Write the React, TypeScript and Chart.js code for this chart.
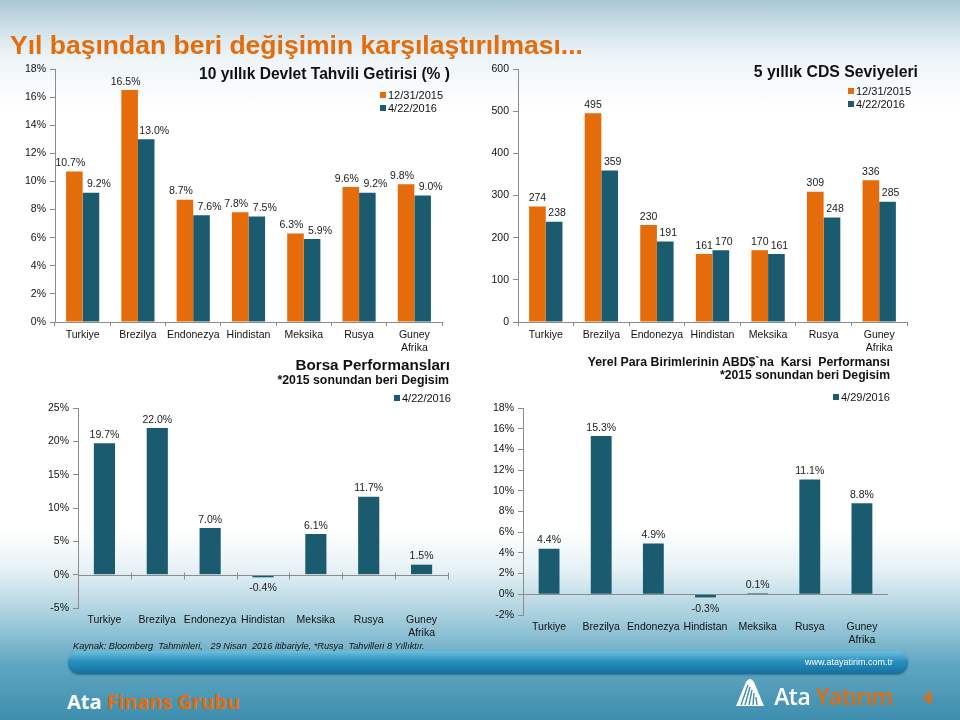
import React, { useEffect, useRef } from "react";
import { Chart, registerables } from "chart.js";

Chart.register(...registerables);

// ---------- data ----------
const countries = ["Turkiye", "Brezilya", "Endonezya", "Hindistan", "Meksika", "Rusya", "Guney Afrika"];
const seriesDates = ["12/31/2015", "4/22/2016"];
const bondYield2015 = [10.7, 16.5, 8.7, 7.8, 6.3, 9.6, 9.8];
const bondYield2016 = [9.2, 13.0, 7.6, 7.5, 5.9, 9.2, 9.0];
const cds2015 = [274, 495, 230, 161, 170, 309, 336];
const cds2016 = [238, 359, 191, 170, 161, 248, 285];
const stockDate = "4/22/2016";
const stockChange = [19.7, 22.0, 7.0, -0.4, 6.1, 11.7, 1.5];
const fxDate = "4/29/2016";
const fxChange = [4.4, 15.3, 4.9, -0.3, 0.1, 11.1, 8.8];

const ORANGE = "#E46C0A";
const TEAL = "#1A5B70";
const AXIS = "#8c8c8c";
const FONT = "Arial, 'Liberation Sans', sans-serif";

Chart.defaults.font.family = FONT;
Chart.defaults.color = "#111";

const labels = countries.map((c) => c.split(" "));

function labelPlugin(format: (v: number) => string, dx: number[]) {
  return {
    id: "barLabels",
    afterDatasetsDraw(chart: any) {
      const ctx = chart.ctx;
      ctx.save();
      ctx.font = `10.5px ${FONT}`;
      ctx.fillStyle = "#1a1a1a";
      ctx.textAlign = "center";
      chart.data.datasets.forEach((ds: any, di: number) => {
        const meta = chart.getDatasetMeta(di);
        meta.data.forEach((el: any, i: number) => {
          const v = ds.data[i] as number;
          const x = el.x + (dx[di] || 0);
          if (v >= 0) {
            ctx.textBaseline = "bottom";
            ctx.fillText(format(v), x, el.y - 3);
          } else {
            ctx.textBaseline = "top";
            ctx.fillText(format(v), x, el.y + 6);
          }
        });
      });
      ctx.restore();
    },
  };
}

function zeroLinePlugin(withTicks: boolean) {
  return {
    id: "zeroLine",
    afterDatasetsDraw(chart: any) {
      const { ctx, chartArea, scales } = chart;
      const y = Math.round(scales.y.getPixelForValue(0)) + 0.5;
      ctx.save();
      ctx.strokeStyle = AXIS;
      ctx.lineWidth = 1;
      ctx.beginPath();
      ctx.moveTo(chartArea.left, y);
      ctx.lineTo(chartArea.right, y);
      if (withTicks) {
        const n = chart.data.labels.length;
        const w = (chartArea.right - chartArea.left) / n;
        for (let i = 1; i <= n; i++) {
          const x = Math.round(chartArea.left + i * w) + 0.5;
          ctx.moveTo(x, y - 3);
          ctx.lineTo(x, y + 4);
        }
      }
      ctx.stroke();
      ctx.restore();
    },
  };
}

type Cfg = {
  datasets: { data: number[]; color: string; label: string }[];
  min: number;
  max: number;
  step: number;
  tick: (v: number) => string;
  fmt: (v: number) => string;
  dx: number[];
  yWidth: number;
  xHeight: number;
  padding: { top: number; right: number; left: number; bottom: number };
  catPct: number;
  zeroAxis: boolean;
  zeroTicks?: boolean;
};

function makeConfig(c: Cfg): any {
  const plugins: any[] = [labelPlugin(c.fmt, c.dx)];
  if (c.zeroAxis) plugins.push(zeroLinePlugin(!!c.zeroTicks));
  return {
    type: "bar",
    data: {
      labels,
      datasets: c.datasets.map((d) => ({
        label: d.label,
        data: d.data,
        backgroundColor: d.color,
        borderWidth: 0,
        categoryPercentage: c.catPct,
        barPercentage: 1,
      })),
    },
    options: {
      responsive: false,
      animation: false,
      devicePixelRatio: 1,
      layout: { padding: c.padding },
      plugins: { legend: { display: false }, title: { display: false }, tooltip: { enabled: false } },
      scales: {
        x: {
          grid: c.zeroAxis
            ? { display: false, drawTicks: false }
            : { display: true, drawOnChartArea: false, drawTicks: true, tickLength: 4, color: AXIS, offset: true },
          border: { display: !c.zeroAxis, color: AXIS },
          ticks: { padding: c.zeroAxis ? 6 : 3, maxRotation: 0, autoSkip: false, font: { size: 10.5 }, color: "#111" },
          afterFit: (s: any) => {
            s.height = c.xHeight;
          },
        },
        y: {
          min: c.min,
          max: c.max,
          grid: { display: true, drawOnChartArea: false, drawTicks: true, tickLength: 5, color: AXIS },
          border: { display: true, color: AXIS },
          ticks: { stepSize: c.step, padding: 4, font: { size: 10.5 }, color: "#111", callback: (v: any) => c.tick(Number(v)) },
          afterFit: (s: any) => {
            s.width = c.yWidth;
          },
        },
      },
    },
    plugins,
  };
}

const pct1 = (v: number) => `${v.toFixed(1)}%`;
const pct0 = (v: number) => `${v}%`;

const W = 470;

const charts = [
  {
    left: 0,
    top: 55,
    width: W,
    height: 305,
    cfg: makeConfig({
      datasets: [
        { data: bondYield2015, color: ORANGE, label: seriesDates[0] },
        { data: bondYield2016, color: TEAL, label: seriesDates[1] },
      ],
      min: 0,
      max: 18,
      step: 2,
      tick: pct0,
      fmt: pct1,
      dx: [-4, 8],
      yWidth: 55,
      xHeight: 38,
      padding: { top: 14, right: W - 442, left: 0, bottom: 0 },
      catPct: 0.6,
      zeroAxis: false,
    }),
  },
  {
    left: 470,
    top: 55,
    width: W,
    height: 305,
    cfg: makeConfig({
      datasets: [
        { data: cds2015, color: ORANGE, label: seriesDates[0] },
        { data: cds2016, color: TEAL, label: seriesDates[1] },
      ],
      min: 0,
      max: 600,
      step: 100,
      tick: (v) => `${v}`,
      fmt: (v) => `${v}`,
      dx: [0, 3],
      yWidth: 48,
      xHeight: 38,
      padding: { top: 14, right: 940 - 907, left: 0, bottom: 0 },
      catPct: 0.6,
      zeroAxis: false,
    }),
  },
  {
    left: 0,
    top: 395,
    width: W,
    height: 255,
    cfg: makeConfig({
      datasets: [{ data: stockChange, color: TEAL, label: stockDate }],
      min: -5,
      max: 25,
      step: 5,
      tick: pct0,
      fmt: pct1,
      dx: [0],
      yWidth: 78,
      xHeight: 42,
      padding: { top: 13, right: W - 448, left: 0, bottom: 0 },
      catPct: 0.4,
      zeroAxis: true,
      zeroTicks: true,
    }),
  },
  {
    left: 470,
    top: 395,
    width: W,
    height: 255,
    cfg: makeConfig({
      datasets: [{ data: fxChange, color: TEAL, label: fxDate }],
      min: -2,
      max: 18,
      step: 2,
      tick: pct0,
      fmt: pct1,
      dx: [0],
      yWidth: 53,
      xHeight: 35,
      padding: { top: 13, right: 940 - 888, left: 0, bottom: 0 },
      catPct: 0.4,
      zeroAxis: true,
      zeroTicks: false,
    }),
  },
];

function Txt(p: {
  children: React.ReactNode;
  left?: number;
  right?: number;
  cy: number;
  size: number;
  bold?: boolean | number;
  italic?: boolean;
  color?: string;
  family?: string;
  spacing?: number;
}) {
  const lh = Math.round(p.size * 1.3);
  const style: React.CSSProperties = {
    position: "absolute",
    top: p.cy - lh / 2,
    height: lh,
    lineHeight: `${lh}px`,
    fontSize: p.size,
    fontWeight: typeof p.bold === "number" ? p.bold : p.bold ? 700 : 400,
    fontStyle: p.italic ? "italic" : "normal",
    fontFamily: p.family || FONT,
    color: p.color || "#111",
    whiteSpace: "pre",
    letterSpacing: p.spacing || 0,
    zIndex: 2,
  };
  if (p.left !== undefined) style.left = p.left;
  if (p.right !== undefined) style.right = 960 - p.right;
  return <div style={style}>{p.children}</div>;
}

function Legend(p: { x: number; cy: number; color: string; text: string }) {
  return (
    <>
      <div style={{ position: "absolute", left: p.x, top: p.cy - 3, width: 6, height: 6, background: p.color, zIndex: 2 }} />
      <Txt left={p.x + 8} cy={p.cy} size={11}>
        {p.text}
      </Txt>
    </>
  );
}

export default function App() {
  const refs = [useRef<HTMLCanvasElement>(null), useRef<HTMLCanvasElement>(null), useRef<HTMLCanvasElement>(null), useRef<HTMLCanvasElement>(null)];

  useEffect(() => {
    const made = charts.map((c, i) => new Chart(refs[i].current as HTMLCanvasElement, c.cfg));
    return () => made.forEach((m) => m.destroy());
  }, []);

  return (
    <div
      style={{
        position: "absolute",
        left: 0,
        top: 0,
        width: 960,
        height: 720,
        overflow: "hidden",
        fontFamily: FONT,
        background:
          "linear-gradient(to bottom, #a9c7d5 0px, #cfe1e9 28px, #eef5f8 58px, #ffffff 110px, #ffffff 530px, #e6f1f5 570px, #a9d0de 615px, #5fa6c1 665px, #3e8eae 720px)",
      }}
    >
      {charts.map((c, i) => (
        <canvas
          key={i}
          ref={refs[i]}
          width={c.width}
          height={c.height}
          style={{ position: "absolute", left: c.left, top: c.top, width: c.width, height: c.height, zIndex: 1 }}
        />
      ))}

      <Txt left={10} cy={45} size={26.5} bold color={ORANGE}>
        Yıl başından beri değişimin karşılaştırılması...
      </Txt>

      <Txt right={450} cy={74} size={15.6} bold>
        10 yıllık Devlet Tahvili Getirisi (% )
      </Txt>
      <Legend x={380} cy={95} color={ORANGE} text={seriesDates[0]} />
      <Legend x={380} cy={108} color={TEAL} text={seriesDates[1]} />

      <Txt right={918} cy={71} size={15.8} bold>
        5 yıllık CDS Seviyeleri
      </Txt>
      <Legend x={848} cy={91} color={ORANGE} text={seriesDates[0]} />
      <Legend x={848} cy={104} color={TEAL} text={seriesDates[1]} />

      <Txt right={450} cy={365} size={15.2} bold>
        Borsa Performansları
      </Txt>
      <Txt right={449} cy={380} size={12.3} bold>
        *2015 sonundan beri Degisim
      </Txt>
      <Legend x={394} cy={398} color={TEAL} text={stockDate} />

      <Txt right={890} cy={362} size={12.3} bold>
        Yerel Para Birimlerinin ABD$`na  Karsi  Performansı
      </Txt>
      <Txt right={890} cy={375} size={12.2} bold>
        *2015 sonundan beri Degisim
      </Txt>
      <Legend x={833} cy={397} color={TEAL} text={fxDate} />

      <Txt left={73} cy={646} size={9.2} italic>
        Kaynak: Bloomberg  Tahminleri,   29 Nisan  2016 itibariyle, *Rusya  Tahvilleri 8 Yıllıktır.
      </Txt>

      <div
        style={{
          position: "absolute",
          left: 68,
          top: 651,
          width: 840,
          height: 23,
          borderRadius: 11,
          background: "linear-gradient(to bottom, #6cc0de 0%, #2a8fbd 45%, #13709f 100%)",
          boxShadow: "0 1px 2px rgba(0,0,0,0.3)",
          zIndex: 1,
        }}
      />
      <Txt right={893} cy={662} size={9} color="#ffffff">
        www.atayatirim.com.tr
      </Txt>

      <Txt left={67} cy={702} size={20} bold family="'Open Sans', sans-serif" color="#ffffff">
        Ata <span style={{ color: ORANGE }}>Finans Grubu</span>
      </Txt>

      <svg width="34" height="30" viewBox="0 0 34 30" style={{ position: "absolute", left: 733, top: 677, zIndex: 2 }}>
        <path d="M3 29 L13 5 Q17 -1 21 5 L31 29 Z" fill="#ffffff" />
        <path d="M15 8 L8 28 M17 10 L12 28 M19 13 L16 28 M21 16 L20 28 M23 20 L24 28" stroke="#3e8eae" strokeWidth="1.4" />
      </svg>
      <Txt right={893} cy={696} size={23} bold={600} spacing={-0.5} family="'Open Sans', sans-serif" color="#ffffff">
        Ata <span style={{ color: ORANGE }}>Yatırım</span>
      </Txt>
      <Txt left={923} cy={698} size={17} bold family="'Open Sans', sans-serif" color={ORANGE}>
        4
      </Txt>
    </div>
  );
}
